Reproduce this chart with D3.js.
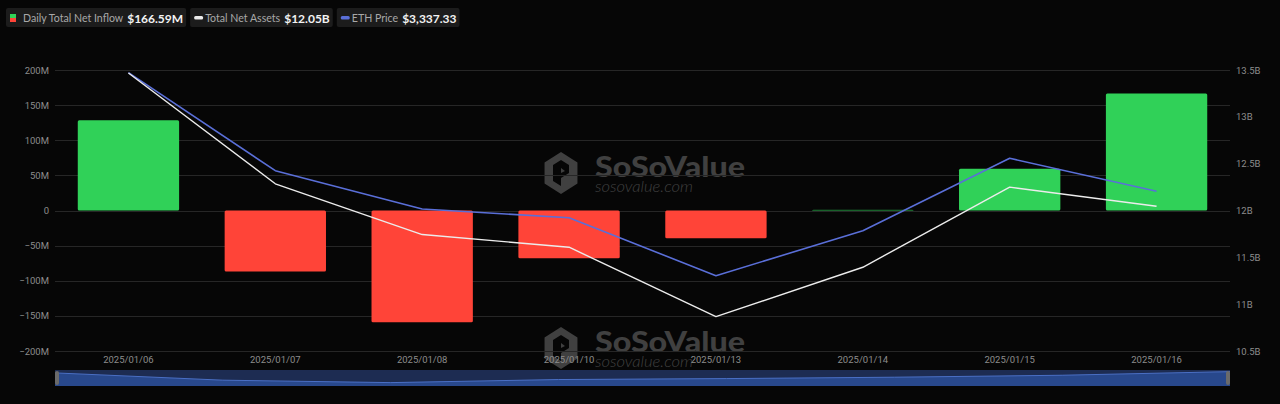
<!DOCTYPE html>
<html>
<head>
<meta charset="utf-8">
<script src="https://cdn.jsdelivr.net/npm/d3@7"></script>
<style>
  html, body { margin: 0; padding: 0; background: #060606; }
  svg { display: block; }
</style>
</head>
<body>
<svg id="chart" width="1280" height="404"></svg>
<script>
// data
var dates = ['2025/01/06', '2025/01/07', '2025/01/08', '2025/01/10', '2025/01/13', '2025/01/14', '2025/01/15', '2025/01/16'];
var netInflow = [128.3, -86.8, -159.2, -68.0, -39.5, 1.0, 59.4, 166.59];       // M USD
var netAssets = [13.468, 12.285, 11.743, 11.608, 10.867, 11.394, 12.249, 12.046]; // B USD
var ethPrice = [3692, 3399, 3284.5, 3258.5, 3085, 3219.6, 3436, 3337.33];
var leftTicks = [200, 150, 100, 50, 0, -50, -100, -150, -200];
var rightTicks = [13.5, 13, 12.5, 12, 11.5, 11, 10.5];

var green = '#30d158', red = '#ff4438', blue = '#5a6fd8', white = '#ececec';

var svg = d3.select('#chart'),
    margin = {top: 70, right: 50, bottom: 53, left: 55},
    width = 1280 - margin.left - margin.right,
    height = 404 - margin.top - margin.bottom;

var x = d3.scaleBand().domain(dates).range([margin.left, margin.left + width])
    .paddingInner(0.31).paddingOuter(0.155);
var y = d3.scaleLinear().domain([-200, 200]).range([351, 70]);
var yR = d3.scaleLinear().domain([10.5, 13.5]).range([351, 70]);
var yEth = d3.scaleLinear().domain([2860, 3700]).range([351, 70]);

var cx = function (i) { return x(dates[i]) + x.bandwidth() / 2; };

// watermarks
function watermark(tx, ty) {
  var w = svg.append('g').attr('transform', 'translate(' + tx + ',' + ty + ')')
      .attr('fill', '#404040');
  // cube icon
  var hex = d3.range(6).map(function (k) {
    var a = Math.PI / 3 * k - Math.PI / 2;
    return [20 + 19 * Math.cos(a), 22 + 21 * Math.sin(a)];
  });
  w.append('path').attr('d', 'M' + hex.join('L') + 'Z');
  w.append('path').attr('d', 'M12,14 L20,9 L28,14 L28,22 L20,27 L20,35 L12,30 Z M20,17 L20,22 L24,20 Z')
      .attr('fill', '#060606');
  w.append('text').attr('x', 54).attr('y', 26).attr('font-family', 'Lato, sans-serif')
      .attr('font-weight', 900).attr('font-size', 28)
      .attr('textLength', 150).attr('lengthAdjust', 'spacingAndGlyphs').text('SoSoValue');
  w.append('text').attr('x', 54).attr('y', 41).attr('font-family', 'Lato, sans-serif')
      .attr('font-style', 'italic').attr('font-weight', 300).attr('font-size', 15)
      .attr('textLength', 98).attr('lengthAdjust', 'spacingAndGlyphs').text('sosovalue.com');
}
watermark(541, 151);
watermark(541, 326);

// grid lines
svg.append('g').selectAll('line').data(leftTicks).enter().append('line')
    .attr('x1', margin.left).attr('x2', margin.left + width)
    .attr('y1', function (d) { return Math.round(y(d)) + 0.5; })
    .attr('y2', function (d) { return Math.round(y(d)) + 0.5; })
    .attr('stroke', '#262626').attr('stroke-width', 1);

// left axis
var leftAxis = svg.append('g').attr('transform', 'translate(' + margin.left + ',0)')
    .call(d3.axisLeft(y).tickValues(leftTicks).tickSize(0).tickPadding(6)
      .tickFormat(function (d) { return d === 0 ? '0' : d3.format('')(d).replace('-', '\u2212') + 'M'; }));
// right axis
var rightAxis = svg.append('g').attr('transform', 'translate(' + (margin.left + width) + ',0)')
    .call(d3.axisRight(yR).tickValues(rightTicks).tickSize(0).tickPadding(6)
      .tickFormat(function (d) { return d + 'B'; }));
// x axis
var xAxis = svg.append('g').attr('transform', 'translate(0,351)')
    .call(d3.axisBottom(x).tickSize(0).tickPadding(5));

[leftAxis, rightAxis, xAxis].forEach(function (a) {
  a.select('.domain').remove();
  a.selectAll('text').attr('fill', '#8c8c8c').attr('font-size', 9.5)
      .attr('font-family', 'Roboto, sans-serif');
});

// bars
svg.append('g').selectAll('rect').data(netInflow).enter().append('rect')
    .attr('x', function (d, i) { return x(dates[i]); })
    .attr('width', x.bandwidth())
    .attr('y', function (d) { return d >= 0 ? y(d) : y(0); })
    .attr('height', function (d) { return Math.max(1, Math.abs(y(d) - y(0))); })
    .attr('rx', 1.5)
    .attr('fill', function (d) { return d >= 0 ? green : red; })
    .attr('opacity', function (d) { return Math.abs(d) < 2 ? 0.6 : 1; });

// lines
var lineAssets = d3.line().x(function (d, i) { return cx(i); }).y(function (d) { return yR(d); });
var lineEth = d3.line().x(function (d, i) { return cx(i); }).y(function (d) { return yEth(d); });

svg.append('path').attr('d', lineEth(ethPrice)).attr('fill', 'none')
    .attr('stroke', blue).attr('stroke-width', 1.6).attr('stroke-linejoin', 'round');
svg.append('path').attr('d', lineAssets(netAssets)).attr('fill', 'none')
    .attr('stroke', white).attr('stroke-width', 1.4).attr('stroke-linejoin', 'round');

// data zoom slider (shadow of the inflow series)
var dz = svg.append('g');
var dzX = d3.scalePoint().domain(dates).range([margin.left, margin.left + width]);
var dzY = d3.scaleLinear().domain([-200, 200]).range([384, 370.5]);
dz.append('rect').attr('x', margin.left).attr('y', 370).attr('width', width).attr('height', 16)
    .attr('fill', '#1d2c52');
dz.append('path')
    .attr('d', d3.area().x(function (d, i) { return dzX(dates[i]); })
      .y0(386).y1(function (d) { return dzY(d); })(netInflow))
    .attr('fill', '#28488c');
dz.append('path')
    .attr('d', d3.line().x(function (d, i) { return dzX(dates[i]); })
      .y(function (d) { return dzY(d); })(netInflow))
    .attr('fill', 'none').attr('stroke', '#4a6fc4').attr('stroke-width', 1);
[margin.left, margin.left + width - 4].forEach(function (hx) {
  dz.append('rect').attr('x', hx).attr('y', 371).attr('width', 4).attr('height', 14)
      .attr('rx', 2).attr('fill', '#6a6a6a');
});

// legend
var legendItems = [
  {label: 'Daily Total Net Inflow', value: '$166.59M', icon: 'split'},
  {label: 'Total Net Assets', value: '$12.05B', icon: white},
  {label: 'ETH Price', value: '$3,337.33', icon: blue}
];
var lx = 6;
legendItems.forEach(function (item) {
  var g = svg.append('g').attr('transform', 'translate(' + lx + ',8)');
  var bg = g.append('rect').attr('y', 0).attr('height', 19).attr('rx', 2).attr('fill', '#1c1c1c');
  if (item.icon === 'split') {
    g.append('rect').attr('x', 4).attr('y', 6).attr('width', 6).attr('height', 4).attr('fill', green);
    g.append('rect').attr('x', 4).attr('y', 10).attr('width', 6).attr('height', 4).attr('fill', red);
  } else {
    g.append('rect').attr('x', 4).attr('y', 8).attr('width', 9).attr('height', 3.5).attr('rx', 1.5)
        .attr('fill', item.icon);
  }
  var t1 = g.append('text').attr('x', item.icon === 'split' ? 17 : 15).attr('y', 14)
      .attr('font-family', 'Lato, sans-serif').attr('font-size', 10.6).attr('fill', '#a8a8a8')
      .text(item.label);
  var t1end = +t1.attr('x') + t1.node().getComputedTextLength();
  var t2 = g.append('text').attr('x', t1end + 4).attr('y', 14.5)
      .attr('font-family', 'Lato, sans-serif').attr('font-size', 12).attr('font-weight', 700)
      .attr('fill', '#f2f2f2').text(item.value);
  var w = t1end + 4 + t2.node().getComputedTextLength() + 3;
  bg.attr('width', w);
  lx += w + 4;
});
</script>
</body>
</html>
